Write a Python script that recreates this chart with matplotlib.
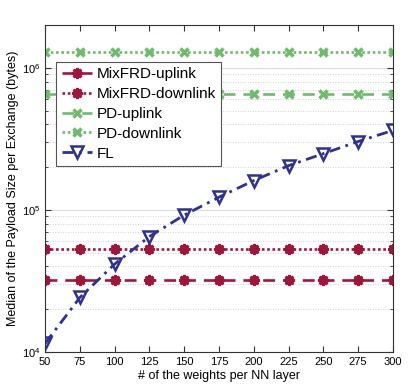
import matplotlib
matplotlib.use("Agg")
import matplotlib.pyplot as plt
import numpy as np
from matplotlib.ticker import LogLocator, NullFormatter

plt.rcParams['font.family'] = ['Liberation Sans', 'DejaVu Sans']
plt.rcParams['mathtext.fontset'] = 'custom'
plt.rcParams['mathtext.rm'] = 'Liberation Sans'

# payload sizes vs. number of weights
weights = [50, 75, 100, 125, 150, 175, 200, 225, 250, 275, 300]
mixfrd_up = [3.2e4] * len(weights)
mixfrd_down = [5.3e4] * len(weights)
pd_up = [6.5e5] * len(weights)
pd_down = [1.3e6] * len(weights)
fl = [1.15e4, 2.42e4, 4.16e4, 6.5e4, 9.2e4, 1.23e5, 1.61e5, 2.05e5, 2.49e5, 3.03e5, 3.63e5]

red = '#a0163a'
green = '#6cbc6a'
blue = '#2e3192'

fig = plt.figure(figsize=(4.14, 3.92), dpi=100)
ax = fig.add_axes([0.109, 0.102, 0.84, 0.834])

star = (8, 1, 0)
lw = 1.9
ax.plot(weights, mixfrd_up, color=red, lw=lw, ls=(0, (4.5, 3)), marker=star, ms=7.5,
        mew=1.8, label='MixFRD-uplink')
ax.plot(weights, mixfrd_down, color=red, lw=lw, ls=(0, (1, 1)), marker=star, ms=7.5,
        mew=1.8, label='MixFRD-downlink')
ax.plot(weights, pd_up, color=green, lw=lw, ls=(0, (4.5, 3)), marker='x', ms=5.5,
        mew=2.5, label='PD-uplink')
ax.plot(weights, pd_down, color=green, lw=lw, ls=(0, (1, 1)), marker='x', ms=5.5,
        mew=2.5, label='PD-downlink')
ax.plot(weights, fl, color=blue, lw=2, ls=(0, (4, 2, 1, 2)), marker='v', ms=9,
        mew=1.8, mfc='none', label='FL')

ax.set_yscale('log')
ax.set_xlim(50, 300)
ax.set_ylim(1e4, 2e6)
ax.set_xticks(weights)
ax.yaxis.set_major_locator(LogLocator(base=10, numticks=10))
ax.yaxis.set_minor_locator(LogLocator(base=10, subs=np.arange(2, 10), numticks=20))
ax.yaxis.set_minor_formatter(NullFormatter())

ax.grid(True, which='major', axis='y', color='#dddddd', lw=0.8, ls='-')
ax.grid(True, which='minor', axis='y', color='#c4c4c4', lw=0.6, ls=(0, (1, 2)))
ax.set_axisbelow(True)

ax.tick_params(which='both', direction='in', top=True, right=True, labelsize=8,
               color='#333333')
ax.tick_params(which='major', length=4)
ax.tick_params(which='minor', length=2.5)
for s in ax.spines.values():
    s.set_color('#333333')
    s.set_linewidth(0.8)

ax.set_xlabel('# of the weights per NN layer', fontsize=9, labelpad=2)
ax.set_ylabel('Median of the Payload Size per Exchange (bytes)', fontsize=9, labelpad=2)

leg = ax.legend(loc='upper left', bbox_to_anchor=(0.032, 0.887), fontsize=11,
                fancybox=False, framealpha=1, edgecolor='#555555', handlelength=2.0,
                handletextpad=0.3, borderpad=0.35, labelspacing=0.38, borderaxespad=0)
leg.get_frame().set_linewidth(0.8)

fig.savefig('out.png', dpi=100)
